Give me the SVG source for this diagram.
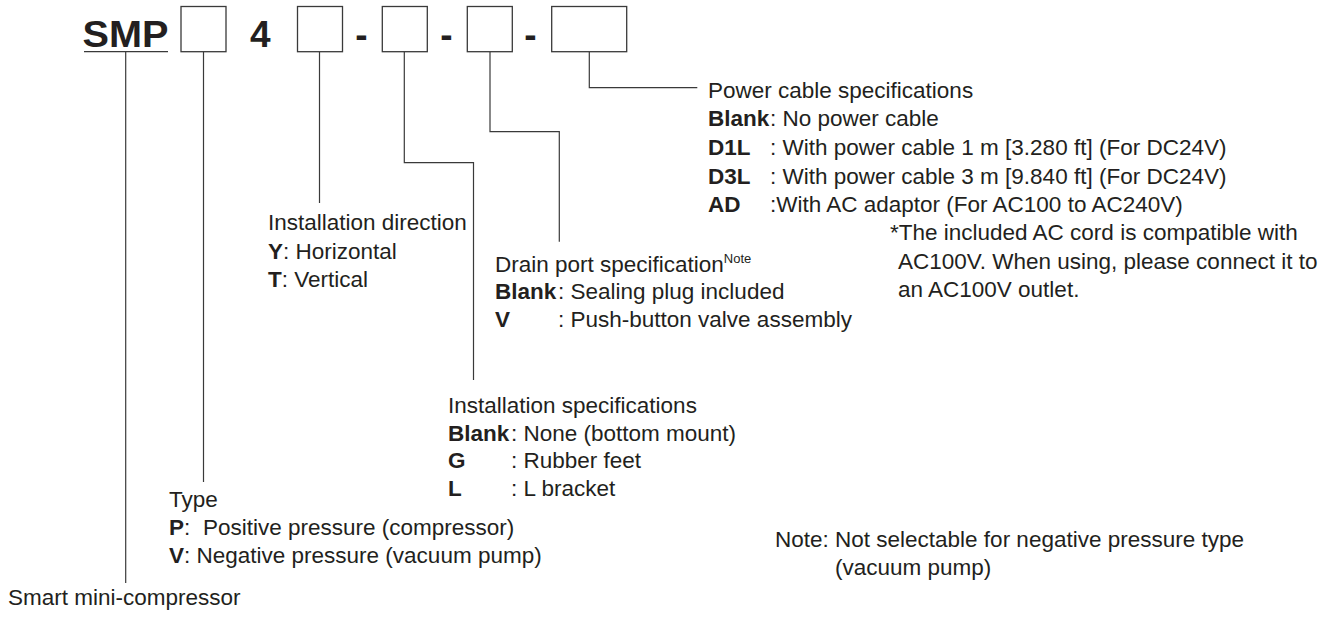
<svg xmlns="http://www.w3.org/2000/svg" width="1339" height="617" viewBox="0 0 1339 617">
<style>
text{font-family:"Liberation Sans",Arial,sans-serif;font-size:22.5px;fill:#231f20}
.b{font-weight:bold}
.big{font-size:37px;font-weight:bold}
.sup{font-size:13px}
.box{fill:none;stroke:#3a3a3a;stroke-width:1.3}
.ln{fill:none;stroke:#3a3a3a;stroke-width:1.2}
</style>
<rect width="1339" height="617" fill="#ffffff"/>
<g id="code">
<text class="big" x="82.5" y="47" textLength="86" lengthAdjust="spacingAndGlyphs">SMP</text>
<line class="ln" x1="84" y1="51.7" x2="168" y2="51.7"/>
<rect class="box" x="181" y="6.5" width="45" height="45.2"/>
<text class="big" x="250" y="47">4</text>
<rect class="box" x="297.5" y="6.5" width="45" height="45.2"/>
<text class="big" x="361.5" y="47" text-anchor="middle">-</text>
<rect class="box" x="382.3" y="6.5" width="45" height="45.2"/>
<text class="big" x="446.5" y="47" text-anchor="middle">-</text>
<rect class="box" x="467.3" y="6.5" width="45" height="45.2"/>
<text class="big" x="530.5" y="47" text-anchor="middle">-</text>
<rect class="box" x="551.7" y="6.5" width="75" height="45.2"/>
</g>
<g id="connectors">
<path class="ln" d="M125.7,52 V583"/>
<path class="ln" d="M203.5,52 V482"/>
<path class="ln" d="M319.5,52 V203"/>
<path class="ln" d="M404.3,52 V162.7 H473.5 V380"/>
<path class="ln" d="M490,52 V131.7 H559.3 V241.7"/>
<path class="ln" d="M589.3,52 V87.7 H697.3"/>
</g>
<g id="power-cable">
<text x="708" y="98">Power cable specifications</text>
<text y="126"><tspan class="b" x="708">Blank</tspan><tspan x="770">: No power cable</tspan></text>
<text y="155"><tspan class="b" x="708">D1L</tspan><tspan x="770">: With power cable 1 m [3.280 ft] (For DC24V)</tspan></text>
<text y="183.5"><tspan class="b" x="708">D3L</tspan><tspan x="770">: With power cable 3 m [9.840 ft] (For DC24V)</tspan></text>
<text y="212"><tspan class="b" x="708">AD</tspan><tspan x="770">:With AC adaptor (For AC100 to AC240V)</tspan></text>
<text x="890" y="240">*The included AC cord is compatible with</text>
<text x="898" y="268.5">AC100V. When using, please connect it to</text>
<text x="898" y="297">an AC100V outlet.</text>
</g>
<g id="drain-port">
<text x="495" y="272">Drain port specification<tspan class="sup" dy="-9">Note</tspan></text>
<text y="298.5"><tspan class="b" x="495">Blank</tspan><tspan x="558">: Sealing plug included</tspan></text>
<text y="327"><tspan class="b" x="495">V</tspan><tspan x="558">: Push-button valve assembly</tspan></text>
</g>
<g id="installation-direction">
<text x="268" y="229.5">Installation direction</text>
<text y="258.5"><tspan class="b" x="268">Y</tspan><tspan>: Horizontal</tspan></text>
<text y="286.5"><tspan class="b" x="268">T</tspan><tspan>: Vertical</tspan></text>
</g>
<g id="installation-spec">
<text x="448" y="413">Installation specifications</text>
<text y="440.5"><tspan class="b" x="448">Blank</tspan><tspan x="511">: None (bottom mount)</tspan></text>
<text y="468"><tspan class="b" x="448">G</tspan><tspan x="511">: Rubber feet</tspan></text>
<text y="495.5"><tspan class="b" x="448">L</tspan><tspan x="511">: L bracket</tspan></text>
</g>
<g id="type">
<text x="169" y="507">Type</text>
<text y="535"><tspan class="b" x="169">P</tspan><tspan>:</tspan><tspan x="203">Positive pressure (compressor)</tspan></text>
<text y="563"><tspan class="b" x="169">V</tspan><tspan>: Negative pressure (vacuum pump)</tspan></text>
</g>
<g id="series">
<text x="8" y="605">Smart mini-compressor</text>
</g>
<g id="note">
<text x="775" y="547">Note: Not selectable for negative pressure type</text>
<text x="835" y="575">(vacuum pump)</text>
</g>
</svg>
